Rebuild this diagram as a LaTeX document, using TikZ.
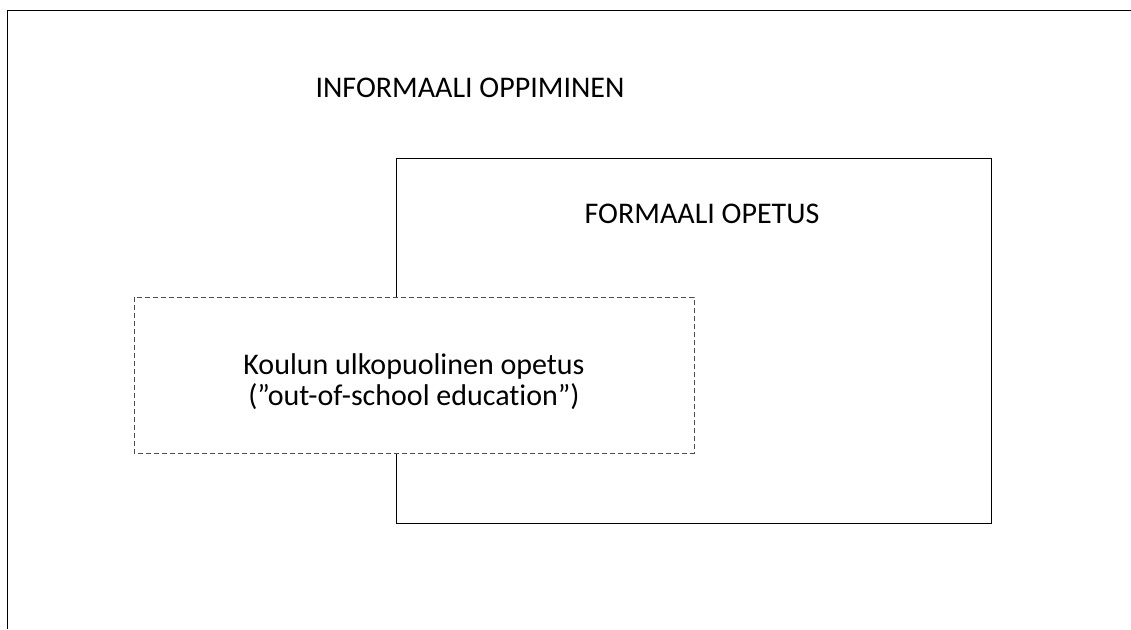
\documentclass[tikz,border=0pt]{standalone}
\usepackage{fontspec}
\setmainfont[Ligatures=NoCommon]{Carlito}
\begin{document}
\begin{tikzpicture}[x=1pt,y=-1pt,
  frame/.style={draw=black, line width=1pt},
  label/.style={font=\fontsize{30}{31}\selectfont, inner sep=0pt, align=center}]
\useasboundingbox (0,0) rectangle (1131,629);
% outer area: open frame along top and left
\coordinate (ot) at (1131,10);
\coordinate (oc) at (7.5,10);
\coordinate (ob) at (7.5,629);
\draw[frame] (ot) -- (oc) -- (ob);
\node[label] (inf) at (470,88) {INFORMAALI OPPIMINEN};
% formal education box
\draw[frame] (396,158) rectangle (991,523);
\node[label] (form) at (702,214) {FORMAALI OPETUS};
% out-of-school box, drawn on top
\draw[draw=black!70, line width=1pt, dash pattern=on 5pt off 3pt, fill=white] (134,297) rectangle (694,453);
\node[label] (out) at (414,382) {Koulun ulkopuolinen opetus\\(”out-of-school education”)};
\end{tikzpicture}
\end{document}
